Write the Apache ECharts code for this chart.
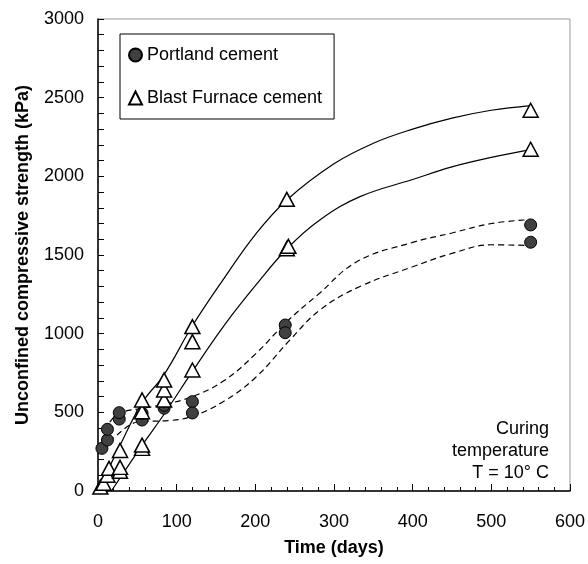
<!DOCTYPE html>
<html>
<head>
<meta charset="utf-8">
<script src="https://cdn.jsdelivr.net/npm/echarts@6/dist/echarts.min.js"></script>
<style>
  html, body { margin: 0; padding: 0; background: #fff; }
  #chart { width: 588px; height: 564px; }
</style>
</head>
<body>
<div id="chart"></div>
<script>
// measured points (days, kPa)
const pcDays = [5, 12, 12, 27, 27, 56, 56, 84, 84, 120, 120, 238, 238, 550, 550];
const pcStrength = [271, 324, 392, 457, 498, 451, 495, 526, 545, 568, 496, 1055, 1006, 1691, 1581];

const bfDays = [3, 7, 12, 14, 28, 28, 28, 56, 56, 56, 56, 84, 84, 84, 120, 120, 120, 240, 242, 240, 550, 550];
const bfStrength = [25, 49, 100, 144, 125, 150, 258, 271, 292, 504, 579, 578, 642, 706, 769, 949, 1045, 1540, 1555, 1854, 2172, 2420];

// fitted curves
const bfUpperDays = [0, 28, 56, 84, 120, 160, 200, 240, 300, 350, 400, 450, 500, 550];
const bfUpperFit = [0, 290, 560, 740, 1050, 1350, 1630, 1850, 2080, 2210, 2300, 2370, 2420, 2450];

const bfLowerDays = [17, 56, 84, 120, 160, 200, 242, 282, 333, 400, 450, 500, 550];
const bfLowerFit = [0, 290, 488, 760, 1050, 1305, 1549, 1723, 1871, 1980, 2060, 2120, 2170];

const pcUpperDays = [5, 14, 28, 56, 84, 120, 160, 200, 240, 280, 330, 400, 450, 500, 550];
const pcUpperFit = [320, 430, 495, 525, 550, 600, 700, 870, 1076, 1250, 1460, 1580, 1640, 1700, 1725];

const pcLowerDays = [5, 20, 53, 91, 120, 160, 200, 244, 282, 333, 400, 450, 500, 550];
const pcLowerFit = [270, 340, 441, 448, 475, 570, 720, 960, 1150, 1300, 1425, 1510, 1565, 1560];

const xTicks = [0, 100, 200, 300, 400, 500, 600];
const yTicks = [0, 500, 1000, 1500, 2000, 2500, 3000];

const noteLines = ['Curing', 'temperature', 'T = 10° C'];

const pair = (xs, ys) => xs.map((x, i) => [x, ys[i]]);

const chart = echarts.init(document.getElementById('chart'));

const font = 'Liberation Sans, Arial, sans-serif';

function fitLine(xs, ys, dashed) {
    return {
        type: 'line',
        data: pair(xs, ys),
        smooth: 0.4,
        showSymbol: false,
        silent: true,
        z: 2,
        lineStyle: {
            color: '#000',
            width: 1.2,
            type: dashed ? [6, 4] : 'solid'
        }
    };
}

const option = {
    animation: false,
    backgroundColor: '#fff',
    textStyle: { fontFamily: font },
    grid: {
        left: 98, right: 18, top: 19, bottom: 73,
        show: true, borderColor: '#999', borderWidth: 1
    },
    legend: {
        data: ['Portland cement', 'Blast Furnace cement'],
        orient: 'vertical',
        left: 120, top: 34,
        padding: [12, 12, 12, 8],
        itemGap: 25,
        itemWidth: 13, itemHeight: 13,
        borderColor: '#000', borderWidth: 1,
        textStyle: { fontSize: 18, color: '#000', fontFamily: font }
    },
    xAxis: {
        type: 'value',
        min: xTicks[0], max: xTicks[xTicks.length - 1], interval: 100,
        name: 'Time (days)',
        nameLocation: 'middle', nameGap: 48,
        nameTextStyle: { fontSize: 18, fontWeight: 'bold', color: '#000' },
        axisLine: { lineStyle: { color: '#000', width: 1.5 } },
        axisTick: { inside: true, length: 7, lineStyle: { color: '#000' } },
        minorTick: { show: true, splitNumber: 5, length: 4, lineStyle: { color: '#000' } },
        splitLine: { show: false },
        axisLabel: { fontSize: 18, color: '#000', margin: 22, formatter: v => String(v) }
    },
    yAxis: {
        type: 'value',
        min: yTicks[0], max: yTicks[yTicks.length - 1], interval: 500,
        name: 'Unconfined compressive strength (kPa)',
        nameLocation: 'middle', nameGap: 66,
        nameTextStyle: { fontSize: 18, fontWeight: 'bold', color: '#000' },
        axisLine: { lineStyle: { color: '#000', width: 1.5 } },
        axisTick: { inside: true, length: 6, lineStyle: { color: '#000' } },
        minorTick: { show: true, splitNumber: 5, length: 6, lineStyle: { color: '#000' } },
        splitLine: { show: false },
        axisLabel: { fontSize: 18, color: '#000', margin: 14, formatter: v => String(v) }
    },
    graphic: [{
        type: 'text',
        x: 549, y: 418,
        style: {
            text: noteLines.join('\n'),
            fontSize: 18, lineHeight: 22,
            fontFamily: font,
            fill: '#000',
            align: 'right'
        }
    }],
    series: [
        fitLine(bfUpperDays, bfUpperFit, false),
        fitLine(bfLowerDays, bfLowerFit, false),
        fitLine(pcUpperDays, pcUpperFit, true),
        fitLine(pcLowerDays, pcLowerFit, true),
        {
            name: 'Portland cement',
            type: 'scatter',
            data: pair(pcDays, pcStrength),
            symbol: 'circle',
            symbolSize: 12,
            z: 3,
            itemStyle: { color: '#404040', borderColor: '#000', borderWidth: 1, opacity: 1 }
        },
        {
            name: 'Blast Furnace cement',
            type: 'scatter',
            data: pair(bfDays, bfStrength),
            symbol: 'triangle',
            symbolSize: [15, 14],
            z: 4,
            itemStyle: { color: '#fff', borderColor: '#000', borderWidth: 1.5, opacity: 1 }
        }
    ]
};

chart.setOption(option);
window.addEventListener('resize', function () {
    chart.resize();
});
</script>
</body>
</html>
